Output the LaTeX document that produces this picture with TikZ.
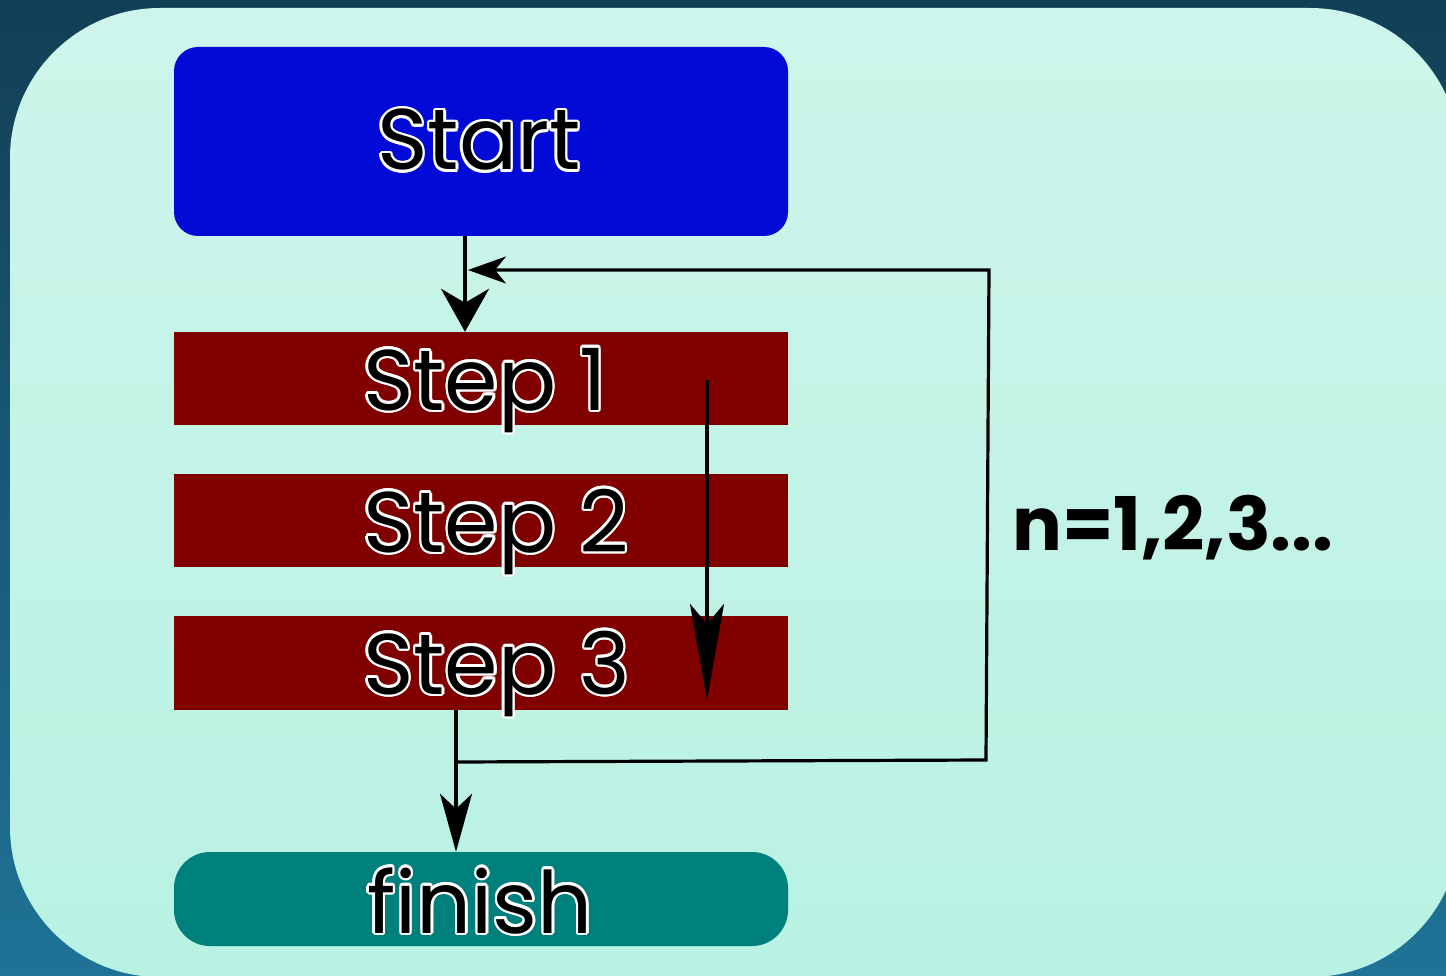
\documentclass[tikz,border=0pt]{standalone}
\usepackage{fontspec}
\usetikzlibrary{arrows.meta,calc}
\newfontfamily\boxfont{Poppins}
\newfontfamily\sidefont{Poppins}

\definecolor{bgDark}{HTML}{123F55}
\definecolor{bgLight}{HTML}{1F7397}
\definecolor{mintTop}{HTML}{CEF5EB}
\definecolor{mintBot}{HTML}{B8F2E2}
\definecolor{startBlue}{HTML}{020AD6}
\definecolor{stepRed}{HTML}{800000}
\definecolor{finTeal}{HTML}{00807C}

\tikzset{
  box/.style={inner sep=0pt, minimum width=614pt, draw=none},
  lbl/.style={inner sep=0pt, font=\boxfont\fontsize{86}{86}\selectfont, text=black},
  halo/.style={lbl, text=white},
  flow/.style={draw=black, line cap=butt},
}

% black label with a thin white rim, made of shifted white copies below it
\newcommand\rimlabel[4]{%
  \foreach \ang in {0,30,...,330}{%
    \node[halo, anchor=#3, shift={(\ang:2.4)}] at (#2) {#4};}%
  \node[lbl, anchor=#3] (#1) at (#2) {#4};}

\begin{document}
\begin{tikzpicture}[x=1pt, y=-1pt]
\useasboundingbox (0,0) rectangle (1446,976);

% backdrop and rounded panel
\shade[shading angle=45, top color=bgDark, middle color=bgDark, bottom color=bgLight]
  (0,0) rectangle (1446,976);
\shade[rounded corners=150pt, top color=mintTop, bottom color=mintBot]
  (10,8) rectangle (1460,977);

% boxes
\node[box, fill=startBlue, rounded corners=24pt, minimum height=189pt] (start) at (481,141.5) {};
\node[box, fill=stepRed, minimum height=93pt] (s1) at (481,378.5) {};
\node[box, fill=stepRed, minimum height=93pt] (s2) at (481,520.5) {};
\node[box, fill=stepRed, minimum height=94pt] (s3) at (481,663) {};
\node[box, fill=finTeal, rounded corners=36pt, minimum height=94pt] (finish) at (481,899) {};

% box labels
\rimlabel{tStart}{479,170}{base}{Start}
\rimlabel{tS1}{363,410}{base west}{Step 1}
\rimlabel{tS2}{363,552}{base west}{Step 2}
\rimlabel{tS3}{363,694}{base west}{Step 3}
\rimlabel{tFin}{480,933}{base}{finish}

% side label
\node[inner sep=0pt, anchor=base west, font=\sidefont\bfseries\fontsize{74}{74}\selectfont] (count) at (1012,550) {n=1,2,3...};

% connector points
\coordinate (e) at (465,270);
\coordinate (j) at (456,762);
\coordinate (c1) at (986,760);
\coordinate (c2) at (989,270);
\coordinate (a1) at (707,380);
\coordinate (a2) at (707,700);

% start to step 1
\draw[flow, line width=4.5pt, -{Stealth[length=43pt, width=48pt, inset=14pt]}]
  (start.south -| e) -- (s1.north -| e);
% loop back
\draw[flow, line width=3.2pt, -{Stealth[length=38pt, width=27pt, inset=11pt]}]
  (j) -- (c1) -- (c2) -- ($(e)+(3,0)$);
% steps run in order
\draw[flow, line width=4pt, -{Stealth[length=96pt, width=34pt, inset=20pt]}]
  (a1) -- (a2);
% step 3 to finish
\draw[flow, line width=3.2pt, -{Stealth[length=58pt, width=32pt, inset=15pt]}]
  (s3.south -| j) -- (finish.north -| j);
\end{tikzpicture}
\end{document}
